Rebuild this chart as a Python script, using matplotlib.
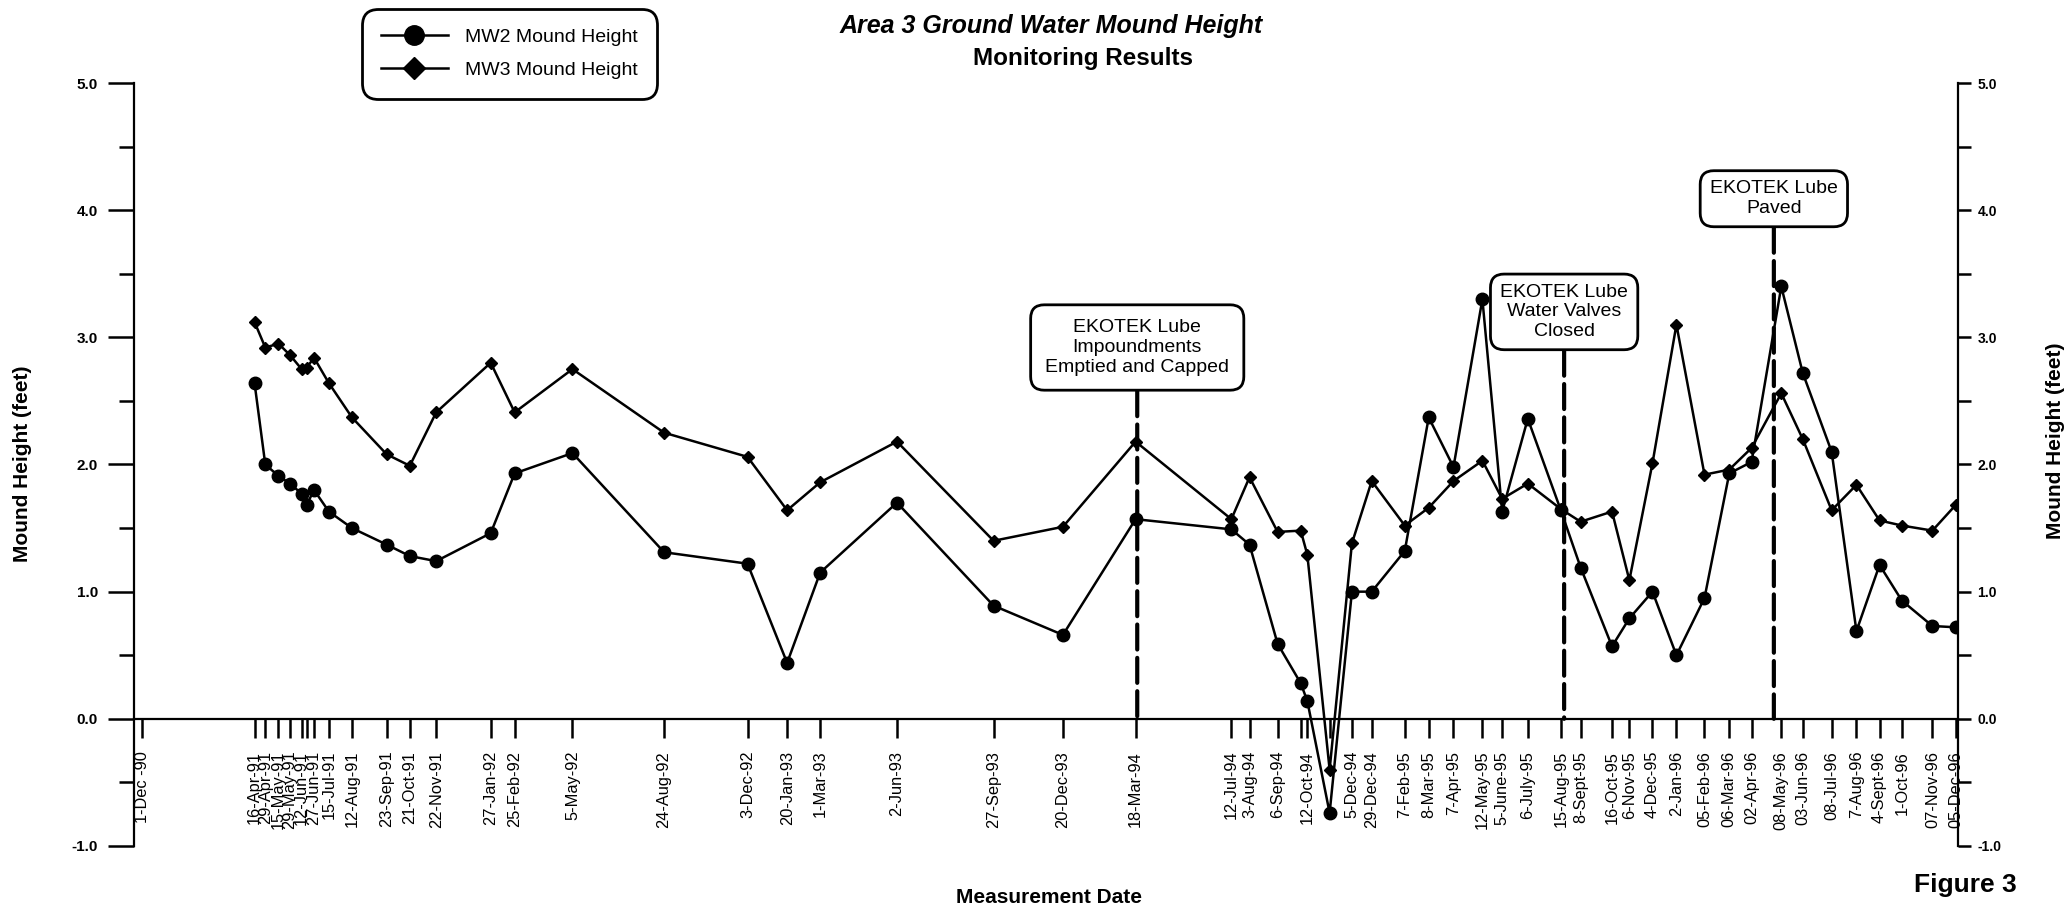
import numpy as np
import pandas as pd
import matplotlib
matplotlib.use("Agg")
import matplotlib.pyplot as plt
from matplotlib.lines import Line2D
from matplotlib.ticker import NullLocator

plt.rcParams['font.family'] = ['Liberation Sans', 'DejaVu Sans']

# sampling dates and their axis labels ('' = tick without label)
sample_dates = ["1991-04-16", "1991-04-29", "1991-05-15", "1991-05-29", "1991-06-12",
                "1991-06-18", "1991-06-27", "1991-07-15", "1991-08-12", "1991-09-23",
                "1991-10-21", "1991-11-22", "1992-01-27", "1992-02-25", "1992-05-05",
                "1992-08-24", "1992-12-03", "1993-01-20", "1993-03-01", "1993-06-02",
                "1993-09-27", "1993-12-20", "1994-03-18", "1994-07-12", "1994-08-03",
                "1994-09-06", "1994-10-04", "1994-10-12", "1994-11-08", "1994-12-05",
                "1994-12-29", "1995-02-07", "1995-03-08", "1995-04-07", "1995-05-12",
                "1995-06-05", "1995-07-06", "1995-08-15", "1995-09-08", "1995-10-16",
                "1995-11-06", "1995-12-04", "1996-01-02", "1996-02-05", "1996-03-06",
                "1996-04-02", "1996-05-08", "1996-06-03", "1996-07-08", "1996-08-07",
                "1996-09-04", "1996-10-01", "1996-11-07", "1996-12-05"]
date_labels = ["16-Apr-91", "29-Apr-91", "15-May-91", "29-May-91", "12-Jun-91",
               "", "27-Jun-91", "15-Jul-91", "12-Aug-91", "23-Sep-91",
               "21-Oct-91", "22-Nov-91", "27-Jan-92", "25-Feb-92", "5-May-92",
               "24-Aug-92", "3-Dec-92", "20-Jan-93", "1-Mar-93", "2-Jun-93",
               "27-Sep-93", "20-Dec-93", "18-Mar-94", "12-Jul-94", "3-Aug-94",
               "6-Sep-94", "", "12-Oct-94", "", "5-Dec-94",
               "29-Dec-94", "7-Feb-95", "8-Mar-95", "7-Apr-95", "12-May-95",
               "5-June-95", "6-July-95", "15-Aug-95", "8-Sept-95", "16-Oct-95",
               "6-Nov-95", "4-Dec-95", "2-Jan-96", "05-Feb-96", "06-Mar-96",
               "02-Apr-96", "08-May-96", "03-Jun-96", "08-Jul-96", "7-Aug-96",
               "4-Sept-96", "1-Oct-96", "07-Nov-96", "05-Dec-96"]

mw2_height = [2.64, 2.00, 1.91, 1.85, 1.77, 1.68, 1.80, 1.63, 1.50, 1.37,
              1.28, 1.24, 1.46, 1.93, 2.09, 1.31, 1.22, 0.44, 1.15, 1.70,
              0.89, 0.66, 1.57, 1.49, 1.37, 0.59, 0.28, 0.14, -0.74, 1.00,
              1.00, 1.32, 2.37, 1.98, 3.30, 1.63, 2.36, 1.64, 1.19, 0.57,
              0.79, 1.00, 0.50, 0.95, 1.93, 2.02, 3.40, 2.72, 2.10, 0.69,
              1.21, 0.93, 0.73, 0.72]
mw3_height = [3.12, 2.92, 2.95, 2.86, 2.75, 2.76, 2.84, 2.64, 2.37, 2.08,
              1.99, 2.41, 2.80, 2.41, 2.75, 2.25, 2.06, 1.64, 1.86, 2.18,
              1.40, 1.51, 2.18, 1.57, 1.90, 1.47, 1.48, 1.29, -0.40, 1.38,
              1.87, 1.52, 1.66, 1.87, 2.03, 1.73, 1.85, 1.65, 1.55, 1.63,
              1.09, 2.01, 3.10, 1.92, 1.96, 2.13, 2.56, 2.20, 1.64, 1.84,
              1.56, 1.52, 1.48, 1.68]

start_tick = ["1990-12-01"]
start_label = ["1-Dec -90"]

# site events marked on the chart
event_text = ["EKOTEK Lube\nImpoundments\nEmptied and Capped",
              "EKOTEK Lube\nWater Valves\nClosed",
              "EKOTEK Lube\nPaved"]
event_dates = ["1994-03-20", "1995-08-19", "1996-04-29"]
event_box_y = [2.92, 3.20, 4.09]
event_pad = [0.75, 0.5, 0.5]

dates = pd.to_datetime(sample_dates)
tick_dates = pd.to_datetime(start_tick + sample_dates)
tick_labels = start_label + date_labels

fig = plt.figure(figsize=(20.65, 9.09), dpi=100)
ax = fig.add_axes([0.06489, 0.06931, 0.88329, 0.83938])

ax.plot(dates, mw3_height, color='black', lw=1.8, marker='D', ms=6.3, zorder=3)
ax.plot(dates, mw2_height, color='black', lw=1.8, marker='o', ms=9, zorder=3)

ax.set_xlim(pd.Timestamp("1990-11-21"), pd.Timestamp("1996-12-08"))
ax.set_ylim(-1, 5)

ax.spines['top'].set_visible(False)
ax.spines['right'].set_visible(False)
ax.spines['bottom'].set_position(('data', 0))
ax.spines['bottom'].set_linewidth(1.6)
ax.spines['left'].set_linewidth(1.6)

ax.set_xticks(tick_dates)
ax.set_xticklabels(tick_labels, rotation=90, fontsize=11.8)
ax.xaxis.set_minor_locator(NullLocator())
ax.tick_params(axis='x', direction='out', length=14, width=1.8, pad=9)

yt = np.arange(-1, 6)
ax.set_yticks(yt)
ax.set_yticklabels([f"{v:.1f}" for v in yt])
ax.set_yticks(np.arange(-0.5, 5, 1), minor=True)
ax.tick_params(axis='y', which='major', length=19, width=1.8, pad=7, labelsize=11)
ax.tick_params(axis='y', which='minor', length=11, width=1.8)
for lab in ax.get_yticklabels():
    lab.set_fontweight('bold')

# right-hand scale
ax2 = ax.twinx()
ax2.set_ylim(-1, 5)
for side in ['top', 'bottom', 'left']:
    ax2.spines[side].set_visible(False)
ax2.spines['right'].set_linewidth(1.6)
ax2.set_yticks(yt)
ax2.set_yticklabels([f"{v:.1f}" for v in yt])
ax2.set_yticks(np.arange(-0.5, 5, 1), minor=True)
ax2.tick_params(axis='y', which='both', length=9, width=1.8, pad=5, labelsize=10)
for lab in ax2.get_yticklabels():
    lab.set_fontweight('bold')

# event boxes with dashed drop lines
for text, d, by, pd_ in zip(event_text, event_dates, event_box_y, event_pad):
    d = pd.Timestamp(d)
    ax2.annotate(text, xy=(d, 0), xytext=(d, by), ha='center', va='center',
                 fontsize=14, zorder=5,
                 bbox=dict(boxstyle=f'round,pad={pd_},rounding_size=0.7',
                           fc='white', ec='black', lw=2),
                 arrowprops=dict(arrowstyle='-', lw=3, linestyle=(0, (6, 2)),
                                 color='black', shrinkA=0, shrinkB=0))

handles = [Line2D([], [], color='black', lw=1.8, marker='o', ms=14, label='MW2 Mound Height'),
           Line2D([], [], color='black', lw=1.8, marker='D', ms=11, label='MW3 Mound Height')]
leg = fig.legend(handles=handles, loc='upper left', bbox_to_anchor=(0.1753, 0.9901),
                 frameon=True, edgecolor='black', fontsize=14, handlelength=3.4,
                 handletextpad=0.9, labelspacing=0.8, borderpad=1.0, borderaxespad=0)
leg.get_frame().set_linewidth(2)
leg.get_frame().set_alpha(1)
leg.get_frame().set_boxstyle('round', pad=0, rounding_size=0.8)

fig.text(0.509, 0.971, "Area 3 Ground Water Mound Height", ha='center', va='center',
         fontsize=18, fontweight='bold', style='italic')
fig.text(0.5245, 0.936, "Monitoring Results", ha='center', va='center',
         fontsize=17.5, fontweight='bold')

fig.text(0.0107, 0.49, "Mound Height (feet)", rotation=90, ha='center', va='center',
         fontsize=15, fontweight='bold')
fig.text(0.9955, 0.515, "Mound Height (feet)", rotation=90, ha='center', va='center',
         fontsize=15, fontweight='bold')
fig.text(0.508, 0.0132, "Measurement Date", ha='center', va='center',
         fontsize=15, fontweight='bold')
fig.text(0.9516, 0.0264, "Figure 3", ha='center', va='center',
         fontsize=19, fontweight='bold')

fig.savefig("out.png", dpi=100)
